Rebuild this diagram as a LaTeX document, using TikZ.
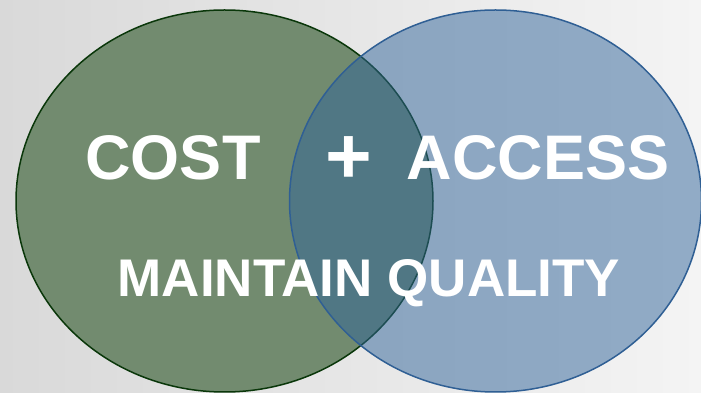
\documentclass[tikz,border=0pt]{standalone}
\usepackage{fontspec}
\setmainfont{Liberation Sans}
\usepackage{color}
\definecolor{mybgleft}{RGB}{217,217,217}
\definecolor{mybgright}{RGB}{244,244,244}
\definecolor{mygreen}{RGB}{114,139,111}
\definecolor{mydarkgreen}{RGB}{10,55,10}
\definecolor{myblue}{RGB}{48,100,154}
\definecolor{mybluedraw}{RGB}{47,95,148}
\usetikzlibrary{shapes.geometric,positioning}

\begin{document}
\begin{tikzpicture}[
  x=1pt, y=1pt,
  myellipse/.style={
    ellipse,
    inner sep=0pt,
    line width=1.5pt
    },
  bigword/.style={
    text=white,
    font=\fontsize{63}{63}\selectfont\bfseries,
    anchor=base,
    inner sep=0pt
    },
  smallword/.style={
    text=white,
    font=\fontsize{53}{53}\selectfont\bfseries,
    anchor=base,
    inner sep=0pt
    }
]
\shade [left color=mybgleft, right color=mybgright] (0,0) rectangle (701,393);
\useasboundingbox (0,0) rectangle (701,393);

\node [myellipse, draw=mydarkgreen, fill=mygreen,
  minimum width=417pt, minimum height=382pt] (cost) at (224.5,192) {};
\node [myellipse, draw=mybluedraw, fill=myblue, fill opacity=0.5,
  minimum width=412pt, minimum height=382pt] (access) at (495.5,192) {};

\node [bigword] (costtext) at (173,213) {COST};
\node [bigword, font=\fontsize{80}{80}\selectfont\bfseries] (plus) at (349,209) {+};
\node [bigword] (accesstext) at (538,213) {ACCESS};
\node [smallword] (quality) at (369,96) {MAINTAIN QUALITY};

\end{tikzpicture}
\end{document}
